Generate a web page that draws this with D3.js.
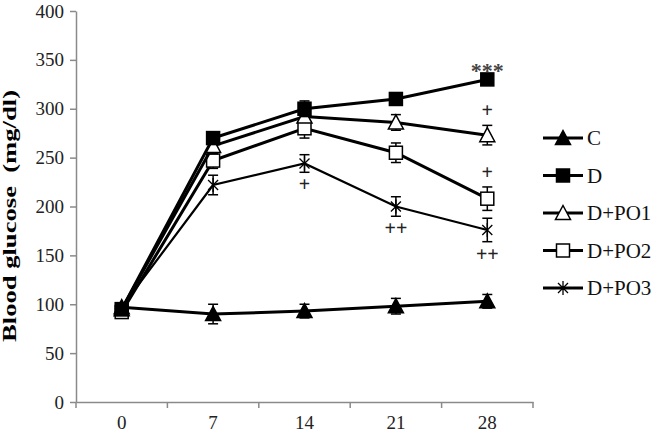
<!DOCTYPE html>
<html>
<head>
<meta charset="utf-8">
<script src="https://cdn.jsdelivr.net/npm/d3@7"></script>
<style>
  body { margin: 0; background: #fff; }
  svg { display: block; }
</style>
</head>
<body>
<script>
// chart data
var days = ["0", "7", "14", "21", "28"];
var yTicks = [0, 50, 100, 150, 200, 250, 300, 350, 400];

var seriesNames = ["C", "D", "D+PO1", "D+PO2", "D+PO3"];
var valC   = [97, 90, 93, 98, 103];
var valD   = [95, 270, 300, 310, 330];
var valPO1 = [95, 262, 292, 286, 273];
var valPO2 = [92, 247, 280, 255, 208];
var valPO3 = [97, 222, 244, 200, 176];

var errC   = [4, 10, 7, 8, 7];
var errD   = [4, 5, 8, 5, 4];
var errPO1 = [4, 8, 5, 8, 10];
var errPO2 = [4, 8, 10, 10, 12];
var errPO3 = [4, 10, 9, 10, 12];

// significance marks: [series, day index, text, above/below]
var marks = [
  ["D", 4, "***", "above"],
  ["D+PO1", 4, "+", "above"],
  ["D+PO2", 4, "+", "above"],
  ["D+PO3", 2, "+", "below"],
  ["D+PO3", 3, "++", "below"],
  ["D+PO3", 4, "++", "below"]
];

var allVals = [valC, valD, valPO1, valPO2, valPO3];
var allErrs = [errC, errD, errPO1, errPO2, errPO3];
var shapes = ["triFill", "sqFill", "triOpen", "sqOpen", "star"];

var width = 660, height = 433;
var plotLeft = 76, plotRight = 533, plotTop = 11, plotBottom = 402;

var svg = d3.select("body").append("svg")
    .attr("width", width)
    .attr("height", height);

var x = d3.scaleBand().domain(days).range([plotLeft, plotRight]);
var y = d3.scaleLinear().domain([0, 400]).range([plotBottom, plotTop]);

var serif = "'Liberation Serif', 'DejaVu Serif', serif";

// axes
var yAxis = d3.axisLeft(y).tickValues(yTicks).tickSize(6).tickSizeOuter(0).tickPadding(6);
var gy = svg.append("g").attr("transform", "translate(" + plotLeft + ",0)").call(yAxis);
var xAxis = d3.axisBottom(x).tickSize(0).tickPadding(14);
var gx = svg.append("g").attr("transform", "translate(0," + plotBottom + ")").call(xAxis);

[gx, gy].forEach(function(g) {
  g.attr("font-family", serif).attr("font-size", 19);
  g.selectAll("path.domain").attr("stroke", "#8a8a8a").attr("stroke-width", 1.5);
  g.selectAll(".tick line").attr("stroke", "#8a8a8a").attr("stroke-width", 1.5);
  g.selectAll("text").attr("fill", "#222");
});

// x ticks sit between categories
gx.selectAll(".tick-sep")
    .data(d3.range(days.length + 1))
    .enter().append("line")
    .attr("x1", function(i) { return plotLeft + i * x.step(); })
    .attr("x2", function(i) { return plotLeft + i * x.step(); })
    .attr("y1", 0).attr("y2", 6)
    .attr("stroke", "#8a8a8a").attr("stroke-width", 1.5);

// y axis title
svg.append("text")
    .attr("transform", "translate(16,216) rotate(-90)")
    .attr("text-anchor", "middle")
    .attr("font-family", serif)
    .attr("font-weight", "bold")
    .attr("font-size", "19px")
    .attr("xml:space", "preserve")
    .attr("textLength", 252)
    .attr("lengthAdjust", "spacingAndGlyphs")
    .text("Blood glucose  (mg/dl)");

function cx(i) { return x(days[i]) + x.bandwidth() / 2; }

// draw a marker at (px, py)
function drawMarker(g, shape, px, py) {
  var s = 6.5;
  if (shape === "triFill" || shape === "triOpen") {
    g.append("path")
      .attr("d", "M" + px + "," + (py - s - 1) + "L" + (px + s + 1) + "," + (py + s) + "L" + (px - s - 1) + "," + (py + s) + "Z")
      .attr("fill", shape === "triFill" ? "#000" : "#fff")
      .attr("stroke", "#000").attr("stroke-width", 1.5);
  } else if (shape === "sqFill" || shape === "sqOpen") {
    g.append("rect")
      .attr("x", px - s).attr("y", py - s)
      .attr("width", 2 * s).attr("height", 2 * s)
      .attr("fill", shape === "sqFill" ? "#000" : "#fff")
      .attr("stroke", "#000").attr("stroke-width", 1.5);
  } else {
    var d = 5;
    g.append("path")
      .attr("d", "M" + (px - d) + "," + (py - d) + "L" + (px + d) + "," + (py + d) +
                 "M" + (px + d) + "," + (py - d) + "L" + (px - d) + "," + (py + d) +
                 "M" + px + "," + (py - 7) + "L" + px + "," + (py + 7))
      .attr("fill", "none").attr("stroke", "#000").attr("stroke-width", 1.3);
  }
}

var line = d3.line()
    .x(function(d, i) { return cx(i); })
    .y(function(d) { return y(d); });

// draw in reverse so filled series end up on top
for (var k = allVals.length - 1; k >= 0; k--) {
  var g = svg.append("g");
  var vals = allVals[k], errs = allErrs[k];

  // error bars
  vals.forEach(function(v, i) {
    var px = cx(i);
    g.append("line")
      .attr("x1", px).attr("x2", px)
      .attr("y1", y(v + errs[i])).attr("y2", y(v - errs[i]))
      .attr("stroke", "#000").attr("stroke-width", 1.5);
    [v + errs[i], v - errs[i]].forEach(function(e) {
      g.append("line")
        .attr("x1", px - 5).attr("x2", px + 5)
        .attr("y1", y(e)).attr("y2", y(e))
        .attr("stroke", "#000").attr("stroke-width", 1.5);
    });
  });

  g.append("path")
    .datum(vals)
    .attr("d", line)
    .attr("fill", "none")
    .attr("stroke", "#000")
    .attr("stroke-width", k === 4 ? 2.2 : 3);

  vals.forEach(function(v, i) { drawMarker(g, shapes[k], cx(i), y(v)); });
}

// significance marks
marks.forEach(function(m) {
  var k = seriesNames.indexOf(m[0]);
  var v = allVals[k][m[1]], e = allErrs[k][m[1]];
  var py = m[3] === "above" ? y(v + e) - 8 : y(v - e) + 19;
  if (m[2] === "***") py = y(v) - 1;
  svg.append("text")
    .attr("x", cx(m[1]))
    .attr("y", py)
    .attr("text-anchor", "middle")
    .attr("font-family", serif)
    .attr("font-size", m[2] === "***" ? "22px" : "20px")
    .attr("font-weight", "bold")
    .attr("fill", m[2] === "***" ? "#444" : "#222")
    .text(m[2]);
});

// legend
var legend = svg.append("g");
seriesNames.forEach(function(name, k) {
  var ly = 138 + k * 37.5;
  var lg = legend.append("g");
  lg.append("line")
    .attr("x1", 543).attr("x2", 583)
    .attr("y1", ly).attr("y2", ly)
    .attr("stroke", "#000").attr("stroke-width", 3);
  drawMarker(lg, shapes[k], 563, ly);
  lg.append("text")
    .attr("x", 587).attr("y", ly + 7)
    .attr("font-family", serif)
    .attr("font-size", "21px")
    .attr("fill", "#111")
    .text(name);
});
</script>
</body>
</html>
